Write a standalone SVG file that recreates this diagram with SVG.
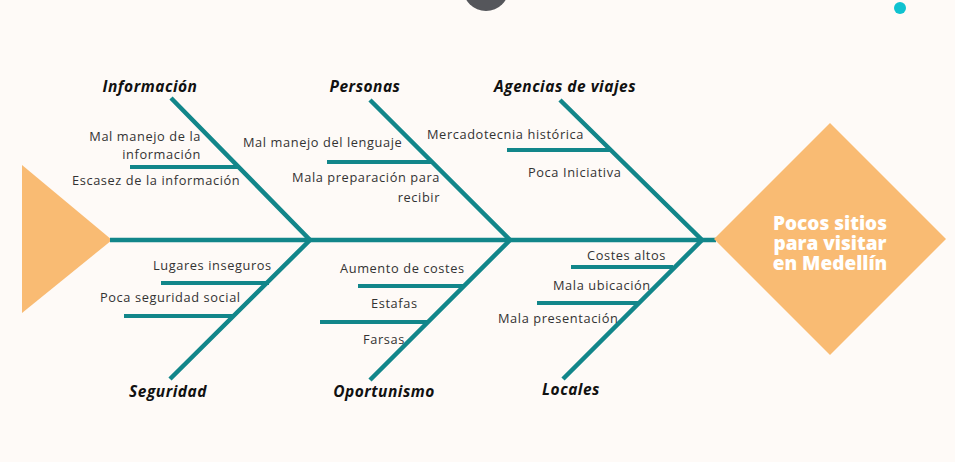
<svg xmlns="http://www.w3.org/2000/svg" width="955" height="462" viewBox="0 0 955 462">
<style>
.bone{stroke:#12868a;stroke-width:4.5;fill:none;stroke-linecap:butt}
.sub{stroke:#12868a;stroke-width:4;fill:none}
.item{font-family:"Open Sans","Liberation Sans",sans-serif;font-size:12.8px;letter-spacing:0.6px;fill:#333}
.cat{font-family:"Open Sans","Liberation Sans",sans-serif;font-size:15.5px;font-weight:700;font-style:italic;letter-spacing:0.5px;fill:#111}
.head{font-family:"Open Sans","Liberation Sans",sans-serif;font-size:19px;font-weight:800;letter-spacing:0px;fill:#fff}
</style>
<rect width="955" height="462" fill="#fefaf7"/>
<circle cx="486" cy="-12" r="23" fill="#55565b"/>
<circle cx="900" cy="8" r="6" fill="#0fc2d0"/>
<g id="tail"><polygon points="22,165 112,240 22,313" fill="#f9bb73"/></g>
<g id="connectors">
<line class="bone" x1="110" y1="240" x2="716" y2="240"/>
<polyline class="bone" points="171,98 310,240 170,379"/>
<polyline class="bone" points="370,100 510,240 370,380"/>
<polyline class="bone" points="560,100 702,240 563,379"/>
<line class="sub" x1="130" y1="167" x2="238" y2="167"/>
<line class="sub" x1="327" y1="162" x2="432" y2="162"/>
<line class="sub" x1="507" y1="150" x2="610" y2="150"/>
<line class="sub" x1="161" y1="283" x2="269" y2="283"/>
<line class="sub" x1="124" y1="316" x2="233" y2="316"/>
<line class="sub" x1="358" y1="286" x2="463" y2="286"/>
<line class="sub" x1="320" y1="322" x2="427" y2="322"/>
<line class="sub" x1="571" y1="267" x2="673" y2="267"/>
<line class="sub" x1="537" y1="303" x2="638" y2="303"/>
</g>
<g id="head"><polygon points="830,123 946,239 830,355 714,239" fill="#f9bb73"/>
<text class="head" text-anchor="middle"><tspan x="830" y="230">Pocos sitios</tspan><tspan x="830" dy="20">para visitar</tspan><tspan x="830" dy="20">en Medellín</tspan></text></g>
<g id="informacion">
<text class="cat" x="150" y="92" text-anchor="middle">Información</text>
<text class="item" x="201" y="141" text-anchor="end">Mal manejo de la</text>
<text class="item" x="201" y="159" text-anchor="end">información</text>
<text class="item" x="72" y="185">Escasez de la información</text>
</g>
<g id="personas">
<text class="cat" x="365" y="92" text-anchor="middle">Personas</text>
<text class="item" x="243" y="147">Mal manejo del lenguaje</text>
<text class="item" x="440" y="182" text-anchor="end">Mala preparación para</text>
<text class="item" x="440" y="202" text-anchor="end">recibir</text>
</g>
<g id="agencias">
<text class="cat" x="565" y="92" text-anchor="middle">Agencias de viajes</text>
<text class="item" x="427" y="139">Mercadotecnia histórica</text>
<text class="item" x="528" y="177">Poca Iniciativa</text>
</g>
<g id="seguridad">
<text class="cat" x="168" y="397" text-anchor="middle">Seguridad</text>
<text class="item" x="153" y="270">Lugares inseguros</text>
<text class="item" x="100" y="302">Poca  seguridad social</text>
</g>
<g id="oportunismo">
<text class="cat" x="384" y="397" text-anchor="middle">Oportunismo</text>
<text class="item" x="340" y="273">Aumento de costes</text>
<text class="item" x="371" y="308">Estafas</text>
<text class="item" x="363" y="344">Farsas</text>
</g>
<g id="locales">
<text class="cat" x="571" y="395" text-anchor="middle">Locales</text>
<text class="item" x="587" y="260">Costes altos</text>
<text class="item" x="553" y="290">Mala ubicación</text>
<text class="item" x="498" y="323">Mala presentación</text>
</g>
</svg>
